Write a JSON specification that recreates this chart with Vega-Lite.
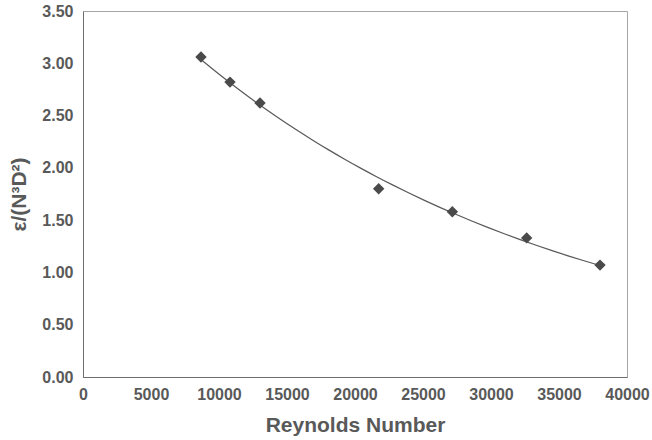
{
  "$schema": "https://vega.github.io/schema/vega-lite/v6.json",
  "width": 544,
  "height": 366,
  "autosize": {"type": "none"},
  "padding": {"left": 83, "top": 11, "right": 25, "bottom": 63},
  "background": "white",
  "config": {
    "view": {"stroke": "#a6a6a6", "strokeWidth": 1},
    "axis": {
      "grid": false,
      "ticks": false,
      "domainColor": "#6e6e6e",
      "domainWidth": 1,
      "labelFont": "Liberation Sans",
      "labelFontWeight": "bold",
      "labelFontSize": 16,
      "labelColor": "#595959",
      "titleFont": "Liberation Sans",
      "titleFontWeight": "bold",
      "titleFontSize": 21,
      "titleColor": "#595959"
    }
  },
  "data": {
    "values": [
      {"re": 8676, "eps": 3.06},
      {"re": 10809, "eps": 2.82},
      {"re": 13015, "eps": 2.62},
      {"re": 21740, "eps": 1.80},
      {"re": 27157, "eps": 1.58},
      {"re": 32623, "eps": 1.33},
      {"re": 38015, "eps": 1.07}
    ]
  },
  "layer": [
    {
      "transform": [
        {"regression": "eps", "on": "re", "method": "exp", "extent": [8676, 38015]}
      ],
      "mark": {"type": "line", "color": "#595959", "strokeWidth": 1.2, "interpolate": "monotone"},
      "encoding": {
        "x": {"field": "re", "type": "quantitative"},
        "y": {"field": "eps", "type": "quantitative"}
      }
    },
    {
      "mark": {"type": "point", "shape": "diamond", "filled": true, "size": 130, "color": "#4a4a4a", "opacity": 1},
      "encoding": {
        "x": {
          "field": "re", "type": "quantitative",
          "scale": {"domain": [0, 40000], "nice": false},
          "axis": {"values": [0,5000,10000,15000,20000,25000,30000,35000,40000], "format": "d", "labelPadding": 9, "title": "Reynolds Number", "titlePadding": 12, "labelFlush": false}
        },
        "y": {
          "field": "eps", "type": "quantitative",
          "scale": {"domain": [0, 3.5], "nice": false},
          "axis": {"values": [0,0.5,1,1.5,2,2.5,3,3.5], "format": ".2f", "labelPadding": 10, "title": "ε/(N³D²)", "titlePadding": 12}
        }
      }
    }
  ]
}
